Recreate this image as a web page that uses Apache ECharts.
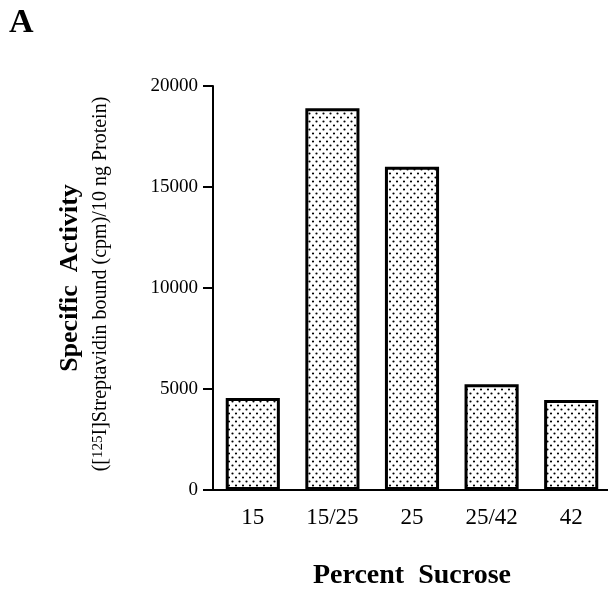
<!DOCTYPE html>
<html>
<head>
<meta charset="utf-8">
<script src="https://cdn.jsdelivr.net/npm/echarts@6/dist/echarts.min.js"></script>
<style>
  html, body { margin: 0; padding: 0; background: #fff; }
  #chart { width: 608px; height: 592px; }
</style>
</head>
<body>
<div id="chart"></div>
<script>
// 數據
const categories = ['15', '15/25', '25', '25/42', '42']
const activity = [4550, 18900, 16000, 5230, 4450]
const yTicks = [0, 5000, 10000, 15000, 20000]

const serif = '"Liberation Serif", "DejaVu Serif", serif'

// 點狀填充圖案 (交錯排列的小黑點)
function dotPattern() {
  const c = document.createElement('canvas')
  c.width = 7
  c.height = 8
  const ctx = c.getContext('2d')
  ctx.fillStyle = '#fff'
  ctx.fillRect(0, 0, 7, 8)
  ctx.fillStyle = '#000'
  ctx.beginPath()
  ctx.arc(1.5, 1.5, 1.1, 0, Math.PI * 2)
  ctx.arc(5, 5.5, 1.1, 0, Math.PI * 2)
  ctx.fill()
  return c
}

const myChart = echarts.init(document.getElementById('chart'))

myChart.setOption({
  animation: false,
  backgroundColor: '#fff',
  grid: { left: 213, top: 86, right: -3, bottom: 102, containLabel: false, outerBoundsMode: 'none' },
  xAxis: {
    type: 'category',
    data: categories,
    axisLine: { lineStyle: { color: '#000', width: 2 } },
    axisTick: { alignWithLabel: true, length: 9, lineStyle: { color: '#000', width: 2 } },
    axisLabel: { color: '#000', fontFamily: serif, fontSize: 23, margin: 16 },
    name: 'Percent  Sucrose',
    nameLocation: 'middle',
    nameGap: 72,
    nameTextStyle: { color: '#000', fontFamily: serif, fontSize: 28, fontWeight: 'bold' }
  },
  yAxis: {
    type: 'value',
    min: yTicks[0],
    max: yTicks[yTicks.length - 1],
    interval: 5000,
    splitLine: { show: false },
    axisLine: { show: true, lineStyle: { color: '#000', width: 2 } },
    axisTick: { show: true, length: 10, lineStyle: { color: '#000', width: 2 } },
    axisLabel: {
      color: '#000',
      fontFamily: serif,
      fontSize: 19,
      margin: 15,
      formatter: (v) => String(v)
    }
  },
  graphic: [
    {
      type: 'text',
      left: 9,
      top: 6,
      style: { text: 'A', font: 'bold 34px ' + serif, fill: '#000' }
    },
    {
      type: 'text',
      x: 70,
      y: 278,
      rotation: Math.PI / 2,
      style: {
        text: 'Specific  Activity',
        font: 'bold 26px ' + serif,
        fill: '#000',
        align: 'center',
        verticalAlign: 'middle'
      }
    },
    {
      type: 'text',
      x: 101,
      y: 284,
      rotation: Math.PI / 2,
      style: {
        text: '([{sup|125}I]Streptavidin bound (cpm)/10 ng Protein)',
        font: '20px ' + serif,
        fill: '#000',
        align: 'center',
        verticalAlign: 'middle',
        rich: {
          sup: { fontSize: 15, fontFamily: serif, verticalAlign: 'top', fill: '#000' }
        }
      }
    }
  ],
  series: [
    {
      type: 'bar',
      data: activity,
      barWidth: '68%',
      itemStyle: {
        color: { image: dotPattern(), repeat: 'repeat' },
        borderColor: '#000',
        borderWidth: 3
      }
    }
  ]
})
</script>
</body>
</html>
